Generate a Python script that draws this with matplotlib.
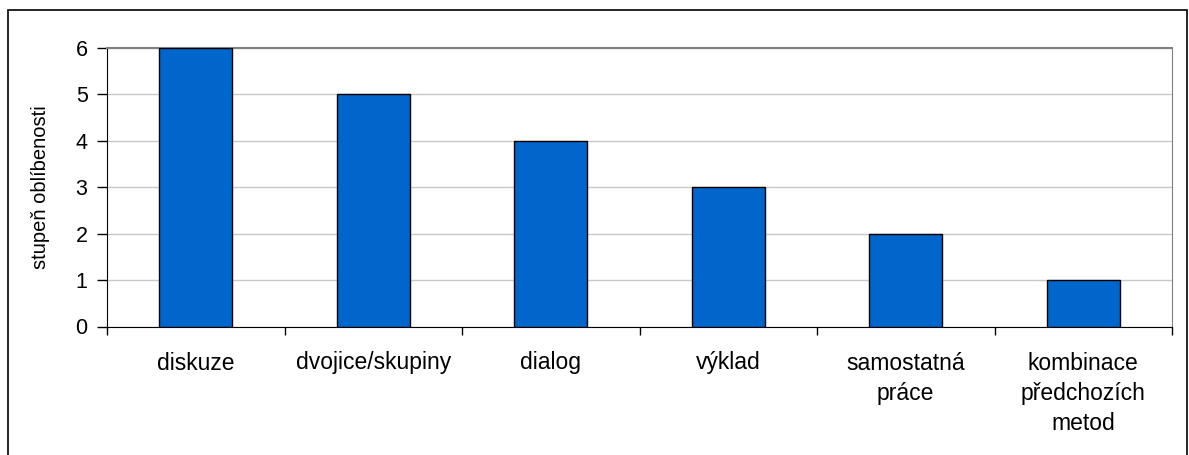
import numpy as np
import matplotlib.pyplot as plt
from matplotlib.patches import Rectangle

methods = ["diskuze", "dvojice/skupiny", "dialog", "výklad",
           "samostatná\npráce", "kombinace\npředchozích\nmetod"]
popularity = [6, 5, 4, 3, 2, 1]
y_ticks = [0, 1, 2, 3, 4, 5, 6]

plt.rcParams['font.family'] = ['Liberation Sans', 'DejaVu Sans']
plt.rcParams['font.size'] = 14

fig = plt.figure(figsize=(11.89, 4.55), dpi=100)
ax = fig.add_axes([107 / 1189, 1 - 326.5 / 455, (1172 - 107) / 1189, (326.5 - 48) / 455])

# outer frame of the chart
fig.patches.append(Rectangle((8 / 1189, -0.05), (1187 - 8) / 1189, 1 - 10 / 455 + 0.05,
                             transform=fig.transFigure, fill=False,
                             edgecolor='black', linewidth=1.2))

x = np.arange(len(methods))
ax.bar(x, popularity, width=0.41, color='#0066CC', edgecolor='black', linewidth=1, zorder=3)

ax.set_xlim(-0.5, len(methods) - 0.5)
ax.set_ylim(0, 6)
ax.set_yticks(y_ticks)
ax.set_yticklabels([str(v) for v in y_ticks], fontsize=15.5)
ax.yaxis.grid(True, color='#c8c8c8', linewidth=1, zorder=0)

# category boundary ticks, labels centred under bars
ax.set_xticks(np.arange(-0.5, len(methods) + 0.5, 1))
ax.set_xticklabels([])
ax.set_xticks(x, minor=True)
ax.set_xticklabels(methods, minor=True, linespacing=1.4, va='top', fontsize=16.5)
ax.tick_params(axis='x', which='minor', length=0, pad=18)
ax.tick_params(axis='x', which='major', length=6, width=1, direction='out', color='black')
ax.tick_params(axis='y', length=7, width=1, color='black', pad=7)

for side in ['top', 'right']:
    ax.spines[side].set_color('#808080')
ax.spines['top'].set_linewidth(1.5)
ax.spines['left'].set_color('black')
ax.spines['bottom'].set_color('black')

ax.set_ylabel("stupeň oblíbenosti", labelpad=18, fontsize=14.5)

fig.savefig("out.png", dpi=100)
